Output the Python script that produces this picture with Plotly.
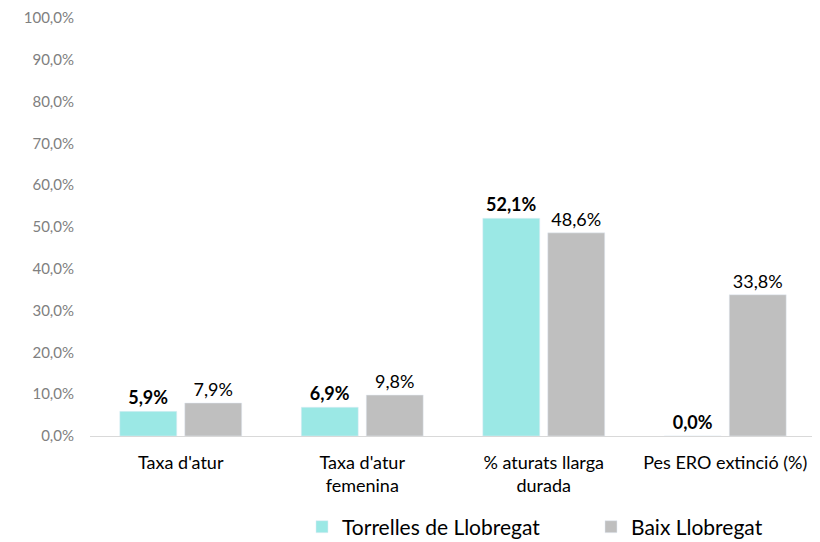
import plotly.graph_objects as go

categories = ["Taxa d'atur", "Taxa d'atur<br>femenina", "% aturats llarga<br>durada", "Pes ERO extinció (%)"]
torrelles = [5.9, 6.9, 52.1, 0.0]
baix = [7.9, 9.8, 48.6, 33.8]
series_names = ["Torrelles de Llobregat", "Baix Llobregat"]
tick_vals = [0, 10, 20, 30, 40, 50, 60, 70, 80, 90, 100]
tick_text = ["0,0%", "10,0%", "20,0%", "30,0%", "40,0%", "50,0%", "60,0%", "70,0%", "80,0%", "90,0%", "100,0%"]

FONT = "Lato, Open Sans, sans-serif"

fig = go.Figure()
fig.add_trace(go.Bar(
    x=categories, y=torrelles, name=series_names[0],
    marker=dict(color="#9BE8E5"),
    texttemplate="<b>%{y:.1f}%</b>", textposition="outside",
    textfont=dict(size=18, color="#000000", family=FONT),
    cliponaxis=False,
))
fig.add_trace(go.Bar(
    x=categories, y=baix, name=series_names[1],
    marker=dict(color="#BFBFBF"),
    texttemplate="%{y:.1f}%", textposition="outside",
    textfont=dict(size=18, color="#000000", family=FONT),
    cliponaxis=False,
))

# page body has an 8px margin, so the figure is sized/positioned to compensate
fig.update_layout(
    width=812, height=534,
    margin=dict(l=82, r=4, t=10, b=106, autoexpand=False),
    paper_bgcolor="white", plot_bgcolor="white",
    separators=",.",
    barmode="group", bargap=0.284, bargroupgap=0.123,
    font=dict(family=FONT, color="#000000"),
    showlegend=True,
    legend=dict(orientation="h", x=0.292, xanchor="left", yref="container", y=0.028, yanchor="middle",
                font=dict(size=21, color="#000000", family=FONT),
                itemwidth=30, tracegroupgap=0, entrywidth=244),
    xaxis=dict(showline=True, linecolor="#D9D9D9", linewidth=1, showgrid=False, automargin=False,
               ticks="", ticklabelstandoff=10,
               tickfont=dict(size=18, color="#000000", family=FONT)),
    yaxis=dict(range=[0, 100], tickvals=tick_vals, ticktext=tick_text, automargin=False,
               showgrid=False, zeroline=False, showline=False,
               tickfont=dict(size=15, color="#808080", family=FONT), ticklabelstandoff=15),
)

fig.write_html("out.html")
